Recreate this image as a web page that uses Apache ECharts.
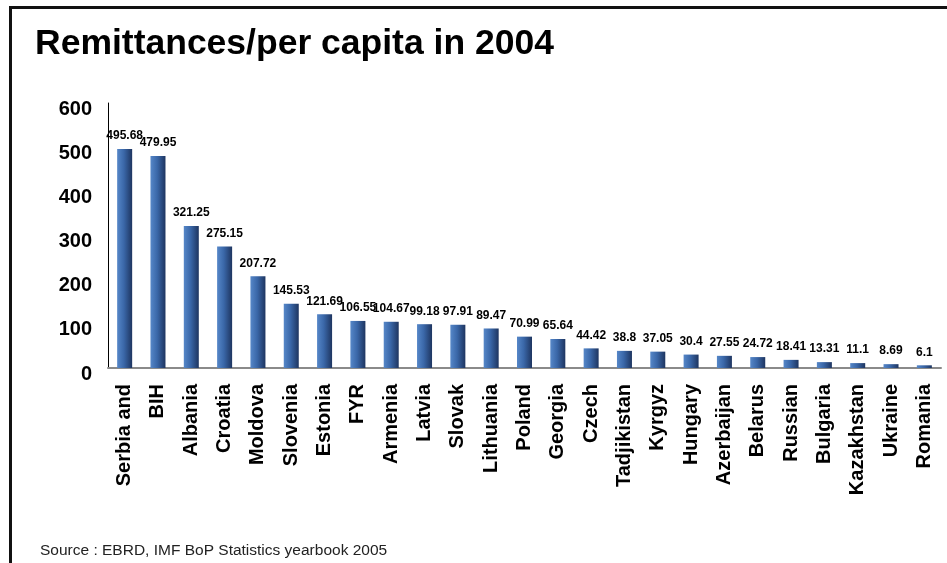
<!DOCTYPE html>
<html>
<head>
<meta charset="utf-8">
<script src="https://cdn.jsdelivr.net/npm/echarts@6/dist/echarts.min.js"></script>
<style>
  html, body { margin: 0; padding: 0; background: #fff; }
  #chart { width: 947px; height: 563px; }
</style>
</head>
<body>
<div id="chart"></div>
<script>
// Remittances per capita, 2004 (USD)
const countries = [
  'Serbia and', 'BIH', 'Albania', 'Croatia', 'Moldova', 'Slovenia', 'Estonia',
  'FYR', 'Armenia', 'Latvia', 'Slovak', 'Lithuania', 'Poland', 'Georgia',
  'Czech', 'Tadjikistan', 'Kyrgyz', 'Hungary', 'Azerbaijan', 'Belarus',
  'Russian', 'Bulgaria', 'Kazakhstan', 'Ukraine', 'Romania'
];
const remittances = [
  495.68, 479.95, 321.25, 275.15, 207.72, 145.53, 121.69,
  106.55, 104.67, 99.18, 97.91, 89.47, 70.99, 65.64,
  44.42, 38.8, 37.05, 30.4, 27.55, 24.72,
  18.41, 13.31, 11.1, 8.69, 6.1
];
const yTicks = [0, 100, 200, 300, 400, 500, 600];

const font = '"Liberation Sans", Arial, sans-serif';
const chart = echarts.init(document.getElementById('chart'));

chart.setOption({
  animation: false,
  backgroundColor: '#ffffff',
  title: [
    {
      text: 'Remittances/per capita in 2004',
      left: 30, top: 21,
      textStyle: { fontFamily: font, fontSize: 35.5, fontWeight: 'bold', color: '#000' }
    },
    {
      text: 'Source : EBRD, IMF BoP Statistics yearbook 2005',
      left: 35, top: 538,
      textStyle: { fontFamily: font, fontSize: 15.5, fontWeight: 'normal', color: '#222' }
    }
  ],
  graphic: [
    // slide frame: top and left edges
    { type: 'rect', shape: { x: 9, y: 6, width: 938, height: 3 }, style: { fill: '#111' } },
    { type: 'rect', shape: { x: 9, y: 6, width: 3, height: 557 }, style: { fill: '#111' } }
  ],
  grid: { left: 108, right: 6, top: 103, height: 265, containLabel: false },
  xAxis: {
    type: 'category',
    data: countries,
    axisLine: { lineStyle: { color: '#8a8a8a', width: 2 } },
    axisTick: { show: false },
    axisLabel: {
      interval: 0, rotate: 90, margin: 16,
      fontFamily: font, fontSize: 20, fontWeight: 'bold', color: '#000'
    }
  },
  yAxis: {
    type: 'value',
    min: yTicks[0], max: yTicks[yTicks.length - 1], interval: 100,
    splitLine: { show: false },
    axisLine: { show: true, lineStyle: { color: '#000', width: 1 } },
    axisTick: { show: false },
    axisLabel: {
      margin: 16,
      formatter: '{t|{value}}',
      rich: {
        t: {
          padding: [12, 0, 0, 0],
          fontFamily: font, fontSize: 20, fontWeight: 'bold', color: '#000'
        }
      }
    }
  },
  series: [{
    type: 'bar',
    data: remittances,
    barWidth: 15,
    itemStyle: {
      color: new echarts.graphic.LinearGradient(0, 0, 1, 0, [
        { offset: 0, color: '#5687c8' },
        { offset: 0.45, color: '#3a67a8' },
        { offset: 1, color: '#1e3560' }
      ])
    },
    label: {
      show: true, position: 'top', distance: 7,
      fontFamily: font, fontSize: 12, fontWeight: 'bold', color: '#000'
    }
  }]
});
</script>
</body>
</html>
